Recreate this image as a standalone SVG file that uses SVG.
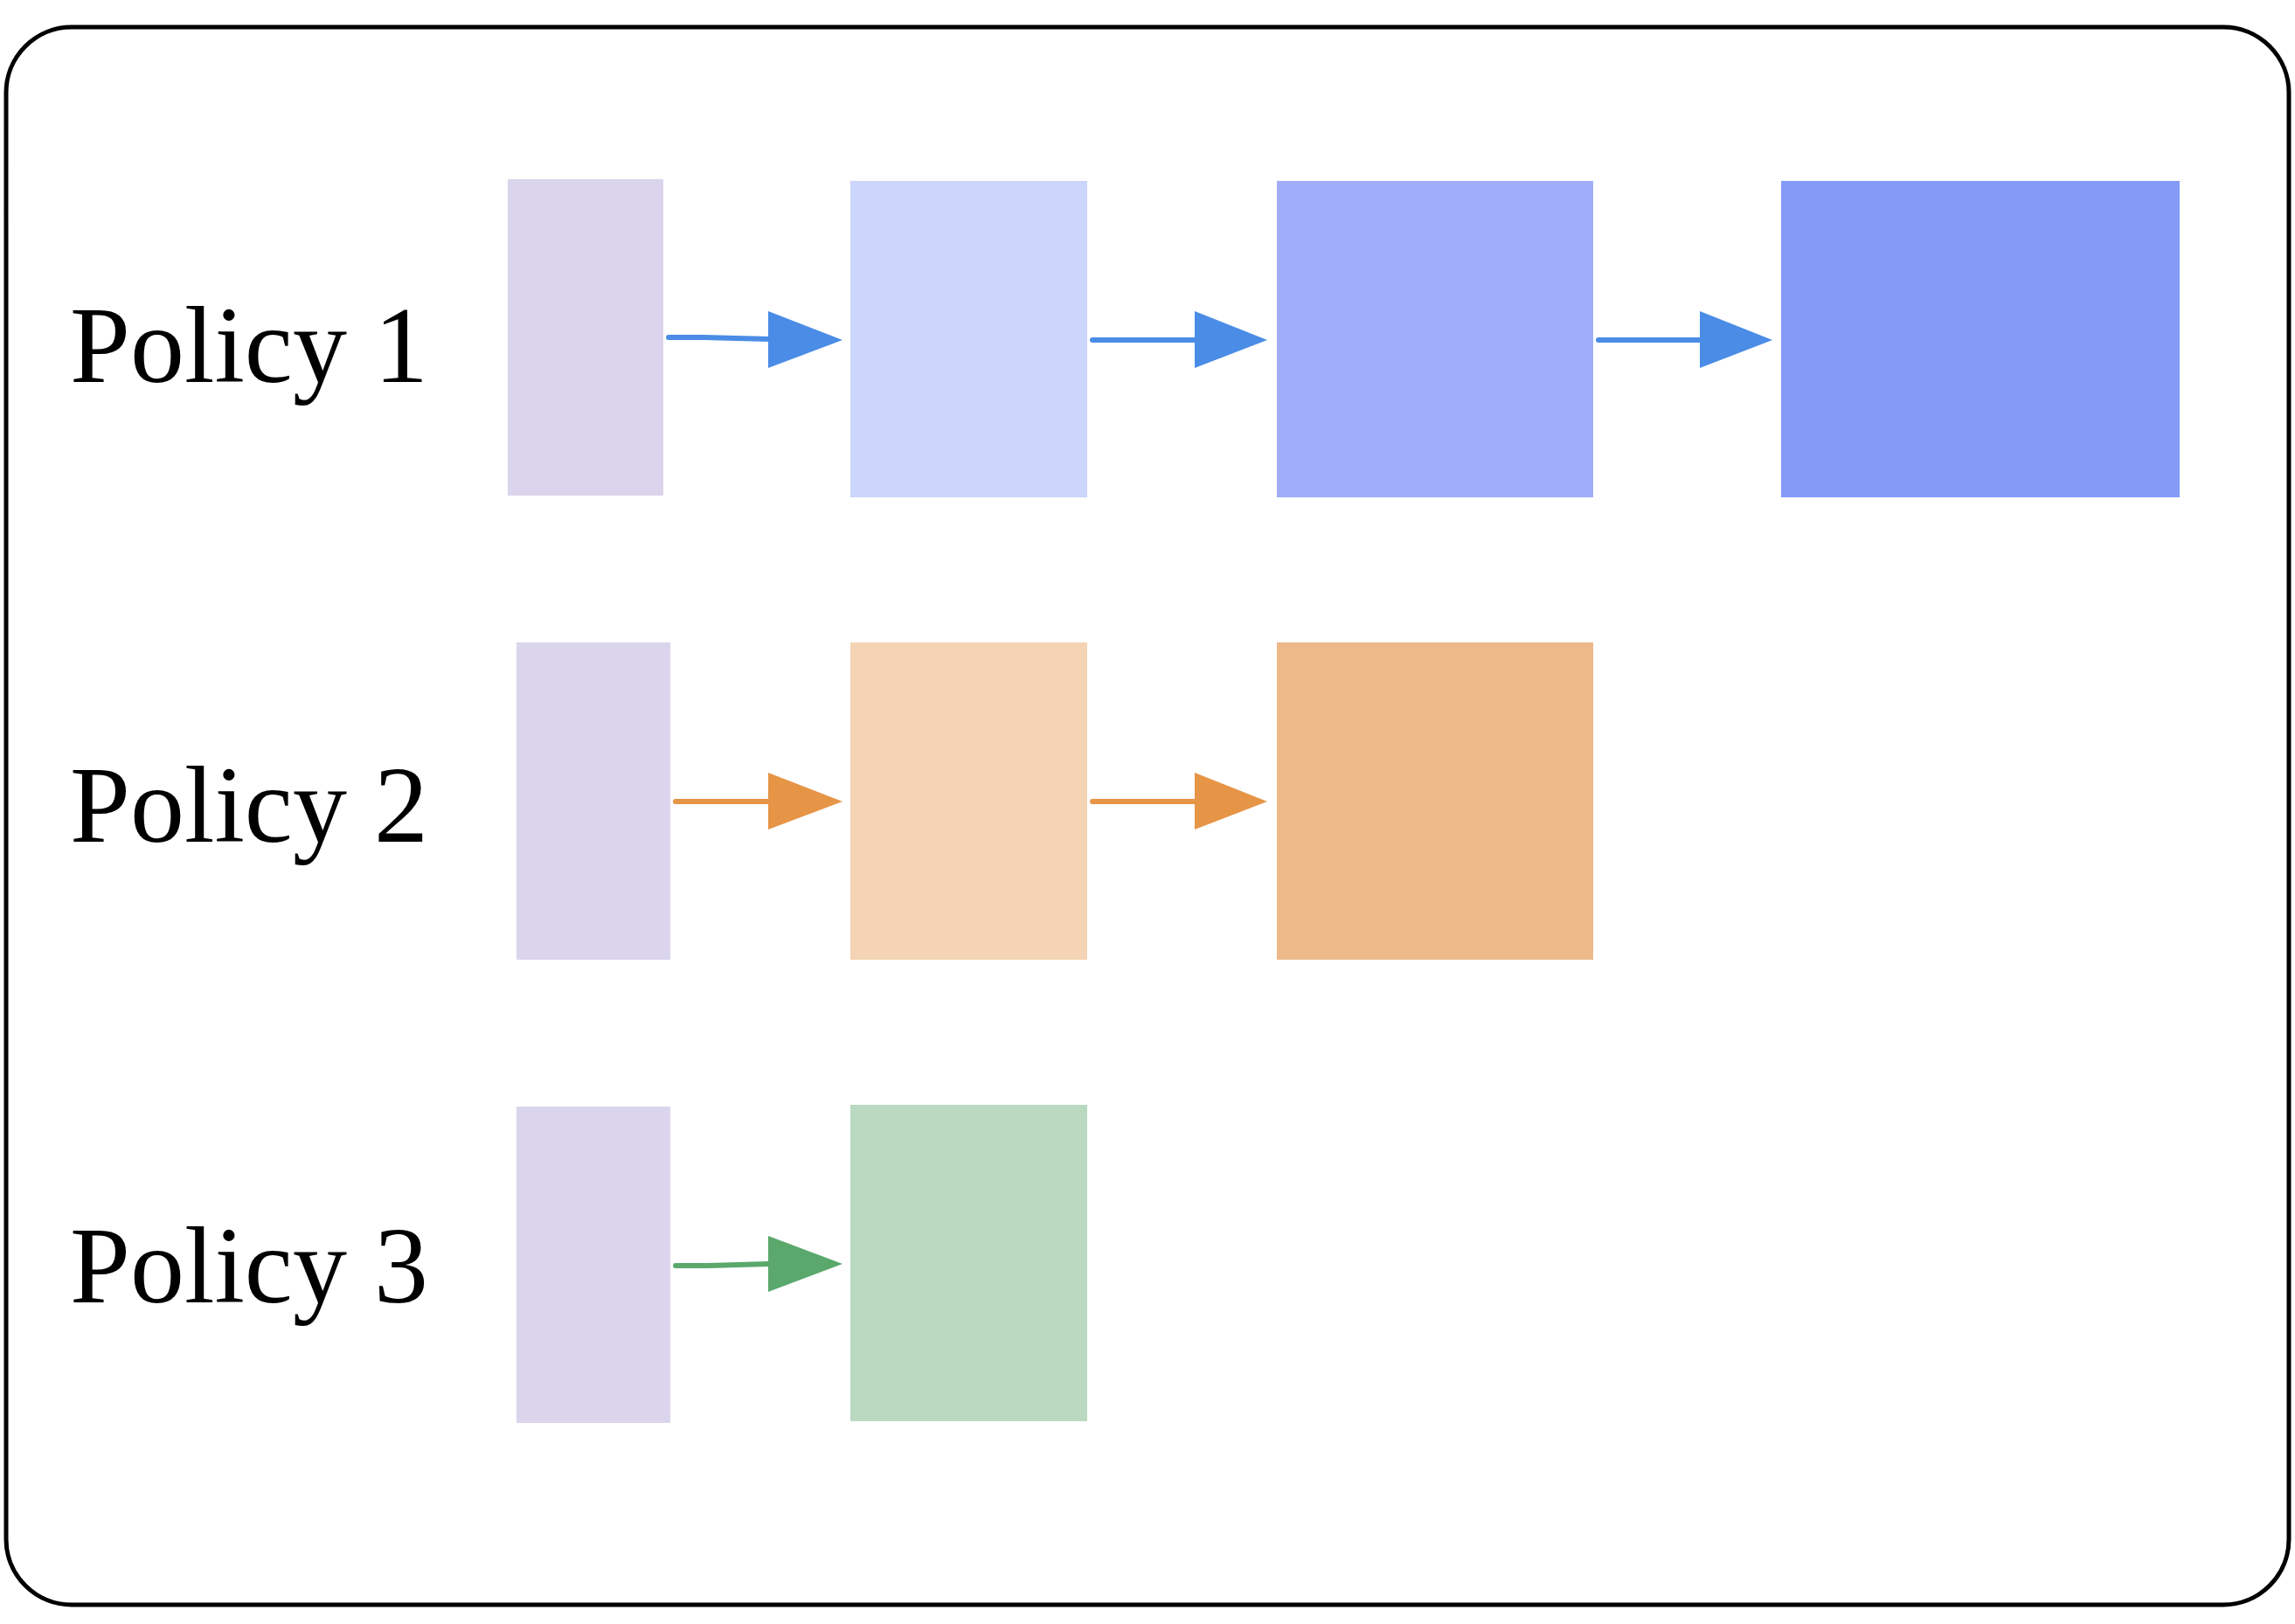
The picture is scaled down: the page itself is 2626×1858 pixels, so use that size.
<svg xmlns="http://www.w3.org/2000/svg" width="2626" height="1858" viewBox="0 0 2626 1858">
<style>
.lbl{font-family:"Liberation Serif",serif;font-size:124px;fill:#000}
.in{fill:#dad5ec}
.ln{stroke-width:6;stroke-linecap:round;fill:none}
</style>
<rect x="0" y="0" width="2626" height="1858" fill="#fff"/>
<rect x="7" y="31" width="2612" height="1805" rx="75" fill="none" stroke="#000" stroke-width="5"/>
<g id="label1"><text class="lbl" x="80" y="437">Policy 1</text></g>
<g id="label2"><text class="lbl" x="80" y="963">Policy 2</text></g>
<g id="label3"><text class="lbl" x="80" y="1490">Policy 3</text></g>
<g id="p1n1"><rect class="in" x="581" y="205" width="178" height="362"/></g>
<g id="p1n2"><rect x="973" y="207" width="271" height="362" fill="#ccd5fb"/></g>
<g id="p1n3"><rect x="1461" y="207" width="362" height="362" fill="#a0aef9"/></g>
<g id="p1n4"><rect x="2038" y="207" width="456" height="362" fill="#8599f7"/></g>
<g id="p2n1"><rect class="in" x="591" y="735" width="176" height="363"/></g>
<g id="p2n2"><rect x="973" y="735" width="271" height="363" fill="#f4d4b4"/></g>
<g id="p2n3"><rect x="1461" y="735" width="362" height="363" fill="#edb989"/></g>
<g id="p3n1"><rect class="in" x="591" y="1266" width="176" height="362"/></g>
<g id="p3n2"><rect x="973" y="1264" width="271" height="362" fill="#b9d9c0"/></g>
<g id="connectors">
<g stroke="#4a8ce6" fill="#4a8ce6">
<path class="ln" d="M765 386 L805 386 L880 388"/><polygon points="879,356 964,389 879,421" stroke="none"/>
<path class="ln" d="M1250 389 L1367 389"/><polygon points="1367,356 1450,389 1367,421" stroke="none"/>
<path class="ln" d="M1829 389 L1945 389"/><polygon points="1945,356 2028,389 1945,421" stroke="none"/>
</g>
<g stroke="#e69446" fill="#e69446">
<path class="ln" d="M773 917 L880 917"/><polygon points="879,884 964,917 879,949" stroke="none"/>
<path class="ln" d="M1250 917 L1367 917"/><polygon points="1367,884 1450,917 1367,949" stroke="none"/>
</g>
<g stroke="#5aa86c" fill="#5aa86c">
<path class="ln" d="M773 1448 L810 1448 L880 1446"/><polygon points="879,1414 964,1446 879,1478" stroke="none"/>
</g>
</g>
</svg>
